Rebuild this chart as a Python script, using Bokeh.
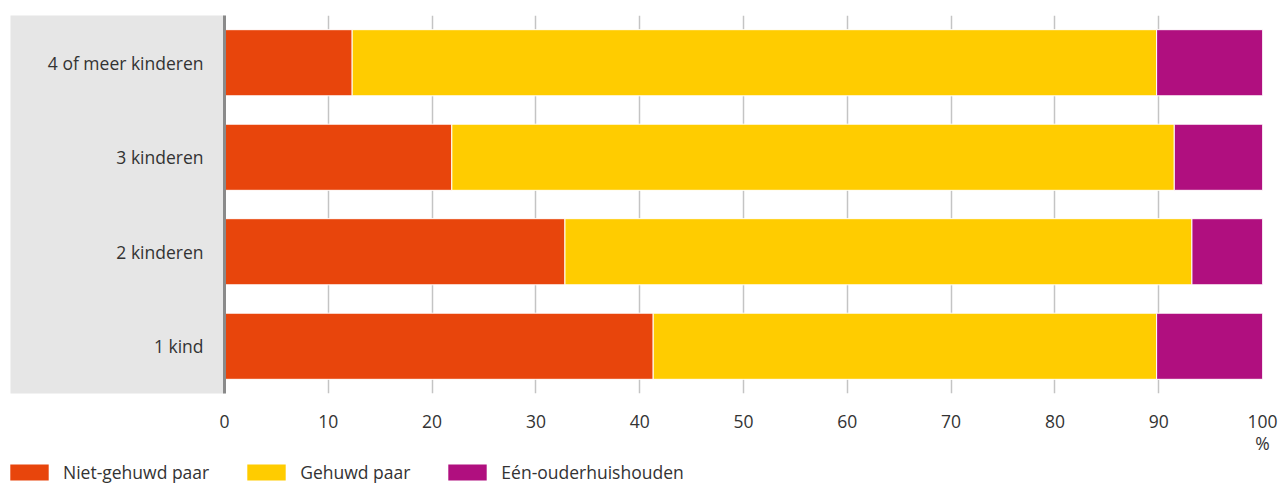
from bokeh.plotting import figure
from bokeh.models import FactorRange, Legend, LegendItem, ColumnDataSource, FixedTicker
from bokeh.embed import file_html
from bokeh.resources import INLINE

categories = ["1 kind", "2 kinderen", "3 kinderen", "4 of meer kinderen"]
niet_gehuwd = [41.3, 32.8, 21.9, 12.3]
gehuwd = [48.5, 60.4, 69.6, 77.5]
een_ouder = [10.2, 6.8, 8.5, 10.2]
series = ["Niet-gehuwd paar", "Gehuwd paar", "Eén-ouderhuishouden"]
colors = ["#E8450C", "#FFCC00", "#B00F7F"]
x_ticks = [0, 10, 20, 30, 40, 50, 60, 70, 80, 90, 100]

FONT = "Open Sans"
TXT = "#333333"
FS = "17.5px"

src = ColumnDataSource(dict(cat=categories, s0=niet_gehuwd, s1=gehuwd, s2=een_ouder))

p = figure(width=1279, height=460, y_range=FactorRange(*categories, range_padding=0),
           x_range=(0, 100), output_backend="svg", toolbar_location=None,
           min_border_left=224, min_border_right=17, min_border_top=15, min_border_bottom=67)
p.outline_line_color = None
p.background_fill_color = "white"
p.border_fill_color = "white"

renderers = p.hbar_stack(["s0", "s1", "s2"], y="cat", height=0.7, color=colors,
                         line_color="white", line_width=1, source=src)

# x axis
xa = p.xaxis[0]
xa.ticker = FixedTicker(ticks=x_ticks)
xa.axis_line_color = None
xa.major_tick_line_color = None
xa.minor_tick_line_color = None
xa.major_label_text_font = FONT
xa.major_label_text_font_size = FS
xa.major_label_text_color = TXT
xa.major_label_standoff = 15
xa.axis_label = "%"
xa.axis_label_text_font = FONT
xa.axis_label_text_font_size = FS
xa.axis_label_text_font_style = "normal"
xa.axis_label_text_color = TXT
xa.axis_label_standoff = 0
xa.axis_label_align = "end"

# y axis
ya = p.yaxis[0]
ya.axis_line_color = "#8a8a8a"
ya.axis_line_width = 3
ya.major_tick_line_color = None
ya.minor_tick_line_color = None
ya.major_label_text_font = FONT
ya.major_label_text_font_size = FS
ya.major_label_text_color = TXT
ya.major_label_standoff = 15
ya.axis_label = " "
ya.axis_label_text_font_size = "1px"
ya.axis_label_standoff = 30
ya.background_fill_color = "#E6E6E6"

p.ygrid.visible = False
p.xgrid.grid_line_color = "#c4c4c4"
p.xgrid.grid_line_width = 1.5

# legend strip (separate root, so its frame is not aligned to the chart's frame)
q = figure(width=1279, height=31, output_backend="svg", toolbar_location=None,
           x_axis_type=None, y_axis_type=None, x_range=(0, 100),
           y_range=FactorRange(*categories),
           min_border_left=0, min_border_right=0, min_border_top=0, min_border_bottom=0)
q.outline_line_color = None
q.grid.visible = False
q.background_fill_color = "white"
q.border_fill_color = "white"
keys = q.hbar_stack(["s0", "s1", "s2"], y="cat", height=0.7, color=colors,
                    line_color=None, source=src)
for r in keys:
    r.visible = False
items = [LegendItem(label=series[i], renderers=[keys[i]]) for i in range(3)]
legend = Legend(items=items, orientation="horizontal", location=(5, 7),
                glyph_width=48, glyph_height=20, label_standoff=10, spacing=33,
                label_text_font=FONT, label_text_font_size=FS, label_text_color=TXT,
                label_height=20, padding=0, margin=0, border_line_color=None,
                background_fill_alpha=0, inactive_fill_alpha=0)
q.add_layout(legend, "center")

open("out.html", "w").write(file_html([p, q], INLINE))
